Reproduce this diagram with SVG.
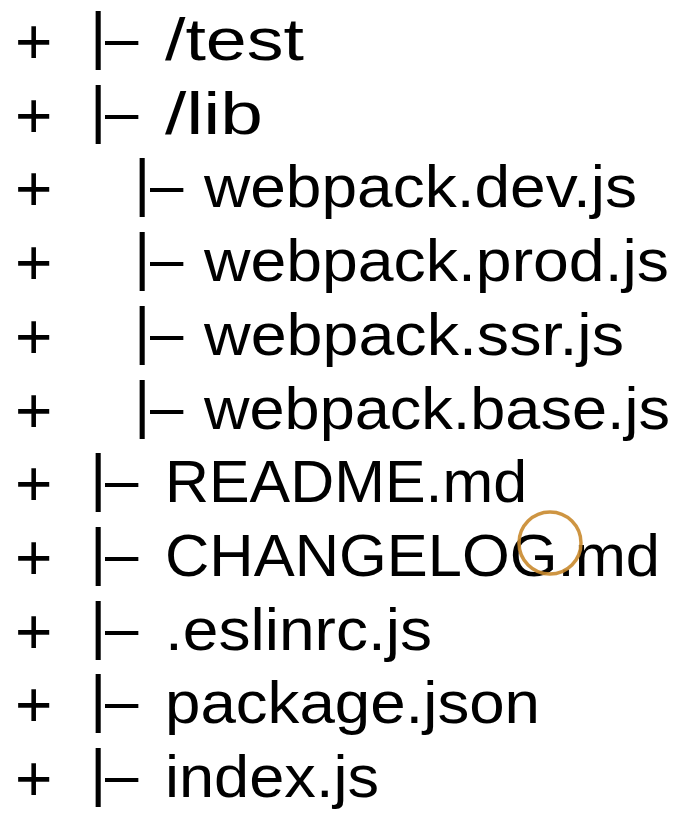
<svg xmlns="http://www.w3.org/2000/svg" width="694" height="828" viewBox="0 0 694 828">
<style>
text{font-family:"Liberation Sans",Arial,sans-serif;font-size:60px;fill:#000}
.p{font-size:64px}
.b{font-size:63px}
</style>
<rect width="694" height="828" fill="#fff"/>
<g id="line1"><text><tspan class="p" x="15" y="64">+</tspan><tspan class="b" x="90" y="57">|</tspan><tspan x="105" y="58">–</tspan><tspan x="165" y="60" textLength="139" lengthAdjust="spacingAndGlyphs">/test</tspan></text></g>
<g id="line2"><text><tspan class="p" x="15" y="137.7">+</tspan><tspan class="b" x="90" y="130.7">|</tspan><tspan x="105" y="131.7">–</tspan><tspan x="165" y="133.7" textLength="98" lengthAdjust="spacingAndGlyphs">/lib</tspan></text></g>
<g id="line3"><text><tspan class="p" x="15" y="211.4">+</tspan><tspan class="b" x="134" y="204.4">|</tspan><tspan x="150" y="205.4">–</tspan><tspan x="204" y="207.4" textLength="433" lengthAdjust="spacingAndGlyphs">webpack.dev.js</tspan></text></g>
<g id="line4"><text><tspan class="p" x="15" y="285.1">+</tspan><tspan class="b" x="134" y="278.1">|</tspan><tspan x="150" y="279.1">–</tspan><tspan x="204" y="281.1" textLength="465" lengthAdjust="spacingAndGlyphs">webpack.prod.js</tspan></text></g>
<g id="line5"><text><tspan class="p" x="15" y="358.8">+</tspan><tspan class="b" x="134" y="351.8">|</tspan><tspan x="150" y="352.8">–</tspan><tspan x="204" y="354.8" textLength="420" lengthAdjust="spacingAndGlyphs">webpack.ssr.js</tspan></text></g>
<g id="line6"><text><tspan class="p" x="15" y="432.5">+</tspan><tspan class="b" x="134" y="425.5">|</tspan><tspan x="150" y="426.5">–</tspan><tspan x="204" y="428.5" textLength="466" lengthAdjust="spacingAndGlyphs">webpack.base.js</tspan></text></g>
<g id="line7"><text><tspan class="p" x="15" y="506.2">+</tspan><tspan class="b" x="90" y="499.2">|</tspan><tspan x="105" y="500.2">–</tspan><tspan x="165" y="502.2" textLength="362" lengthAdjust="spacingAndGlyphs">README.md</tspan></text></g>
<g id="line8"><text><tspan class="p" x="15" y="579.9">+</tspan><tspan class="b" x="90" y="572.9">|</tspan><tspan x="105" y="573.9">–</tspan><tspan x="165" y="575.9" textLength="495" lengthAdjust="spacingAndGlyphs">CHANGELOG.md</tspan></text></g>
<g id="line9"><text><tspan class="p" x="15" y="653.6">+</tspan><tspan class="b" x="90" y="646.6">|</tspan><tspan x="105" y="647.6">–</tspan><tspan x="165" y="649.6" textLength="267" lengthAdjust="spacingAndGlyphs">.eslinrc.js</tspan></text></g>
<g id="line10"><text><tspan class="p" x="15" y="727.3">+</tspan><tspan class="b" x="90" y="720.3">|</tspan><tspan x="105" y="721.3">–</tspan><tspan x="165" y="723.3" textLength="375" lengthAdjust="spacingAndGlyphs">package.json</tspan></text></g>
<g id="line11"><text><tspan class="p" x="15" y="801">+</tspan><tspan class="b" x="90" y="794">|</tspan><tspan x="105" y="795">–</tspan><tspan x="165" y="797" textLength="214" lengthAdjust="spacingAndGlyphs">index.js</tspan></text></g>
<circle cx="550" cy="543" r="31" fill="none" stroke="#c98a2e" stroke-width="3.5" opacity="0.9"/>
</svg>
